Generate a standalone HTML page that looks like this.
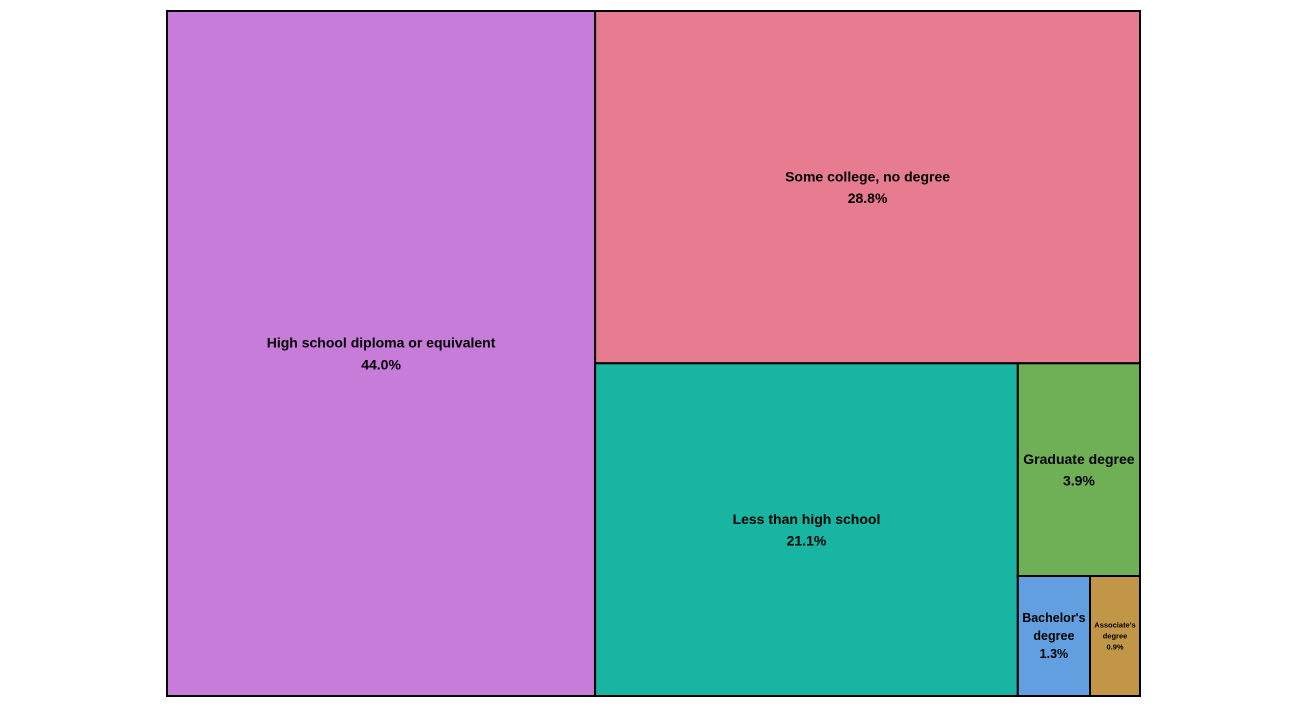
<!DOCTYPE html>
<html><head><meta charset="utf-8"><style>
html,body{margin:0;padding:0;background:#fff;width:1308px;height:708px;overflow:hidden}
svg text{font-family:"Liberation Sans",Arial,sans-serif;font-weight:bold;fill:#000}
</style></head><body>
<svg id="chart" width="1308" height="708" xmlns="http://www.w3.org/2000/svg"></svg>
<script>
const categories = ["High school diploma or equivalent","Some college, no degree","Less than high school","Graduate degree","Bachelor's degree","Associate's degree"];
const values = [44.0, 28.8, 21.1, 3.9, 1.3, 0.9];
const valueLabels = ["44.0%","28.8%","21.1%","3.9%","1.3%","0.9%"];
const colors = ["#c77cd9","#e77b90","#18b5a2","#6faf55","#619fe0","#c19747"];
const nameLines = [["High school diploma or equivalent"],["Some college, no degree"],["Less than high school"],["Graduate degree"],["Bachelor's","degree"],["Associate's","degree"]];

const X0=167,Y0=11,W=973,H=685;
const svg=document.getElementById('chart');
const NS='http://www.w3.org/2000/svg';
function worst(row,side,scale){let s=row.reduce((a,b)=>a+b,0)*scale;let w=s/side;let m=0;for(const r of row){const h=r*scale/w;m=Math.max(m,Math.max(w/h,h/w));}return m;}
function squarify(vals){
  const total=vals.reduce((a,b)=>a+b,0);
  let x=X0,y=Y0,w=W,h=H,remain=total;const rects=[];let i=0;
  while(i<vals.length){
    const scale=(w*h)/remain;const side=Math.min(w,h);
    let row=[vals[i]];let j=i+1;
    while(j<vals.length&&worst(row.concat([vals[j]]),side,scale)<=worst(row,side,scale)){row.push(vals[j]);j++;}
    const s=row.reduce((a,b)=>a+b,0);
    if(w>=h){const rw=s*scale/h;let cy=y;for(const r of row){const rh=r*scale/rw;rects.push([x,cy,rw,rh]);cy+=rh;}x+=rw;w-=rw;}
    else{const rh=s*scale/w;let cx=x;for(const r of row){const rw=r*scale/rh;rects.push([cx,y,rw,rh]);cx+=rw;}y+=rh;h-=rh;}
    remain-=s;i=j;
  }
  return rects;
}
const rects=squarify(values);
rects.forEach((r,k)=>{
  const g=document.createElementNS(NS,'g');
  
  
  const rc=document.createElementNS(NS,'rect');
  
  
  rc.setAttribute('x',r[0]);rc.setAttribute('y',r[1]);rc.setAttribute('width',r[2]);rc.setAttribute('height',r[3]);
  rc.setAttribute('fill',colors[k]);rc.setAttribute('stroke','#000');rc.setAttribute('stroke-width','2');
  g.appendChild(rc);
  const lines=nameLines[k].concat([valueLabels[k]]);
  const fs=r[2]<60?7.5:(r[2]<100&&r[3]<150?12.5:14);
  const lh=fs*(fs>=14?1.55:1.45);
  const cx=r[0]+r[2]/2,cy=r[1]+r[3]/2;
  const startY=cy-(lines.length-1)*lh/2;
  lines.forEach((t,li)=>{
    const tx=document.createElementNS(NS,'text');
    
    
    tx.setAttribute('x',cx);tx.setAttribute('y',startY+li*lh);
    tx.setAttribute('text-anchor','middle');tx.setAttribute('dominant-baseline','central');
    tx.setAttribute('font-size',fs);
    tx.textContent=t;g.appendChild(tx);
  });
  svg.appendChild(g);
});
</script>
</body></html>
